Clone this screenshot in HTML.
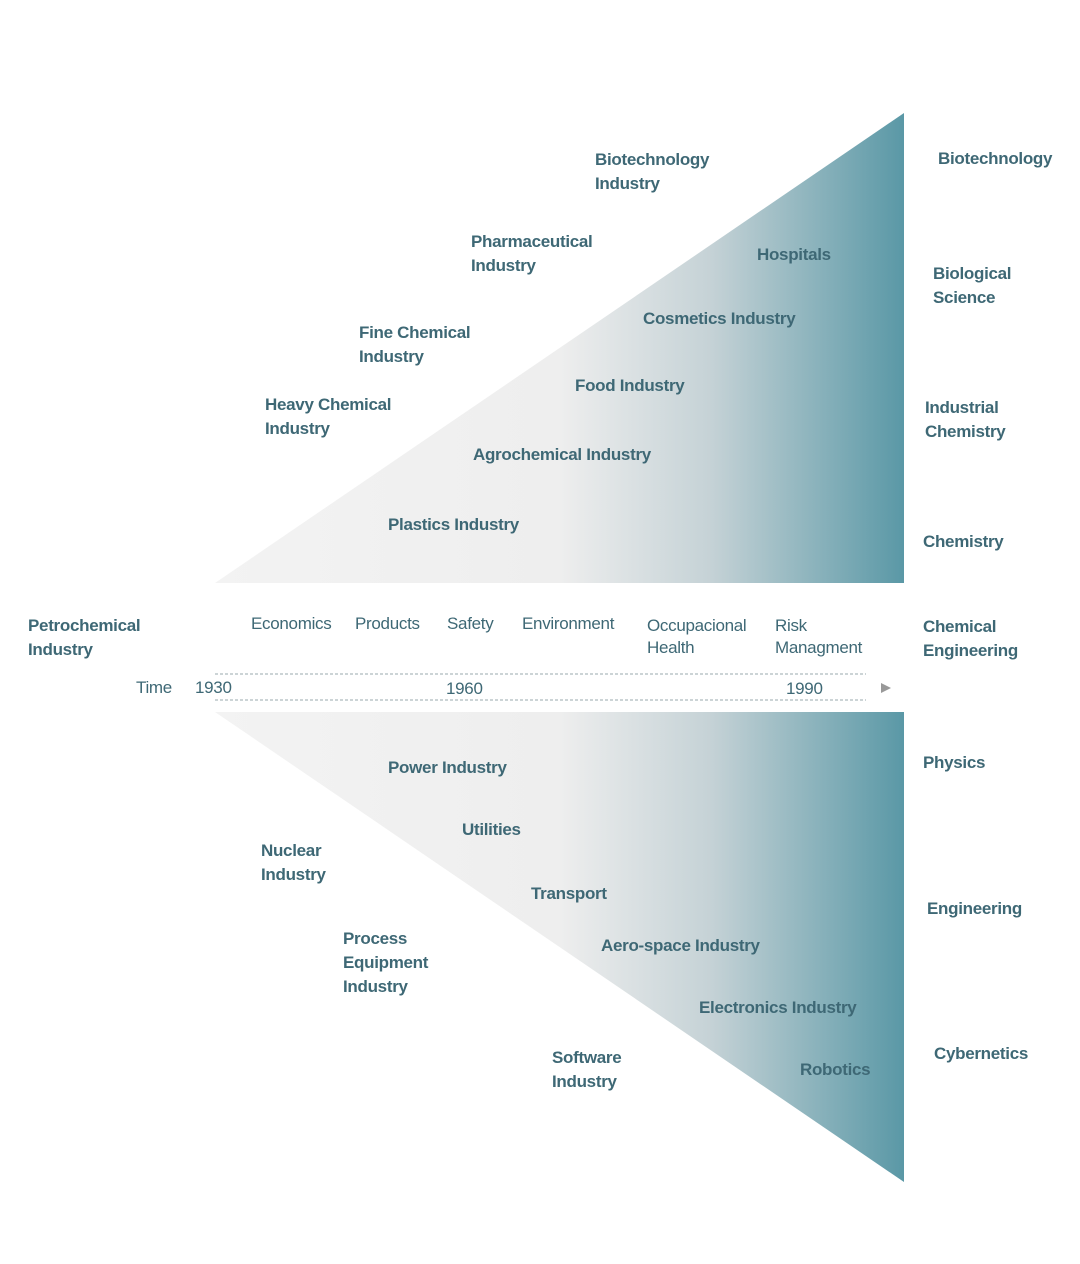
<!DOCTYPE html>
<html><head><meta charset="utf-8"><style>
html,body{margin:0;padding:0;background:#fff}
svg{display:block}
text{font-family:"Liberation Sans",sans-serif;fill:#3e6875;font-size:17px;letter-spacing:-0.3px}
.s{font-size:15px;font-weight:normal}
.b{font-weight:bold;font-size:16.5px}
</style></head><body>
<svg width="1080" height="1264" viewBox="0 0 1080 1264" xmlns="http://www.w3.org/2000/svg">
<defs>
<linearGradient id="g" x1="215" y1="0" x2="904" y2="0" gradientUnits="userSpaceOnUse">
<stop offset="0" stop-color="#f3f3f3"/>
<stop offset="0.5" stop-color="#eeeeee"/>
<stop offset="0.72" stop-color="#c5d2d6"/>
<stop offset="1" stop-color="#5a98a6"/>
</linearGradient>
</defs>
<polygon points="215,583 904,113 904,583" fill="url(#g)"/>
<polygon points="215,712 904,712 904,1182" fill="url(#g)"/>
<line x1="215" y1="674" x2="866" y2="674" stroke="#9aa8ad" stroke-width="1" stroke-dasharray="3,2"/>
<line x1="215" y1="700" x2="866" y2="700" stroke="#9aa8ad" stroke-width="1" stroke-dasharray="3,2"/>
<polygon points="881,683 891,688 881,693" fill="#999"/>
<g class="b">
<text x="595" y="165">Biotechnology</text><text x="595" y="189">Industry</text>
<text x="471" y="247">Pharmaceutical</text><text x="471" y="271">Industry</text>
<text x="359" y="338">Fine Chemical</text><text x="359" y="362">Industry</text>
<text x="265" y="410">Heavy Chemical</text><text x="265" y="434">Industry</text>
<text x="757" y="260">Hospitals</text>
<text x="643" y="324">Cosmetics Industry</text>
<text x="575" y="391">Food Industry</text>
<text x="473" y="460">Agrochemical Industry</text>
<text x="388" y="530">Plastics Industry</text>
<text x="938" y="164">Biotechnology</text>
<text x="933" y="279">Biological</text><text x="933" y="303">Science</text>
<text x="925" y="413">Industrial</text><text x="925" y="437">Chemistry</text>
<text x="923" y="547">Chemistry</text>
<text x="28" y="631">Petrochemical</text><text x="28" y="655">Industry</text>
<text x="923" y="632">Chemical</text><text x="923" y="656">Engineering</text>
<text x="388" y="773">Power Industry</text>
<text x="462" y="835">Utilities</text>
<text x="261" y="856">Nuclear</text><text x="261" y="880">Industry</text>
<text x="531" y="899">Transport</text>
<text x="343" y="944">Process</text><text x="343" y="968">Equipment</text><text x="343" y="992">Industry</text>
<text x="601" y="951">Aero-space Industry</text>
<text x="699" y="1013">Electronics Industry</text>
<text x="552" y="1063">Software</text><text x="552" y="1087">Industry</text>
<text x="800" y="1075">Robotics</text>
<text x="923" y="768">Physics</text>
<text x="927" y="914">Engineering</text>
<text x="934" y="1059">Cybernetics</text>
</g>
<g class="s">
<text x="251" y="629">Economics</text>
<text x="355" y="629">Products</text>
<text x="447" y="629">Safety</text>
<text x="522" y="629">Environment</text>
<text x="647" y="631">Occupacional</text><text x="647" y="653">Health</text>
<text x="775" y="631">Risk</text><text x="775" y="653">Managment</text>
<text x="136" y="693">Time</text>
<text x="195" y="693">1930</text>
<text x="446" y="694">1960</text>
<text x="786" y="694">1990</text>
</g>
</svg>
</body></html>
